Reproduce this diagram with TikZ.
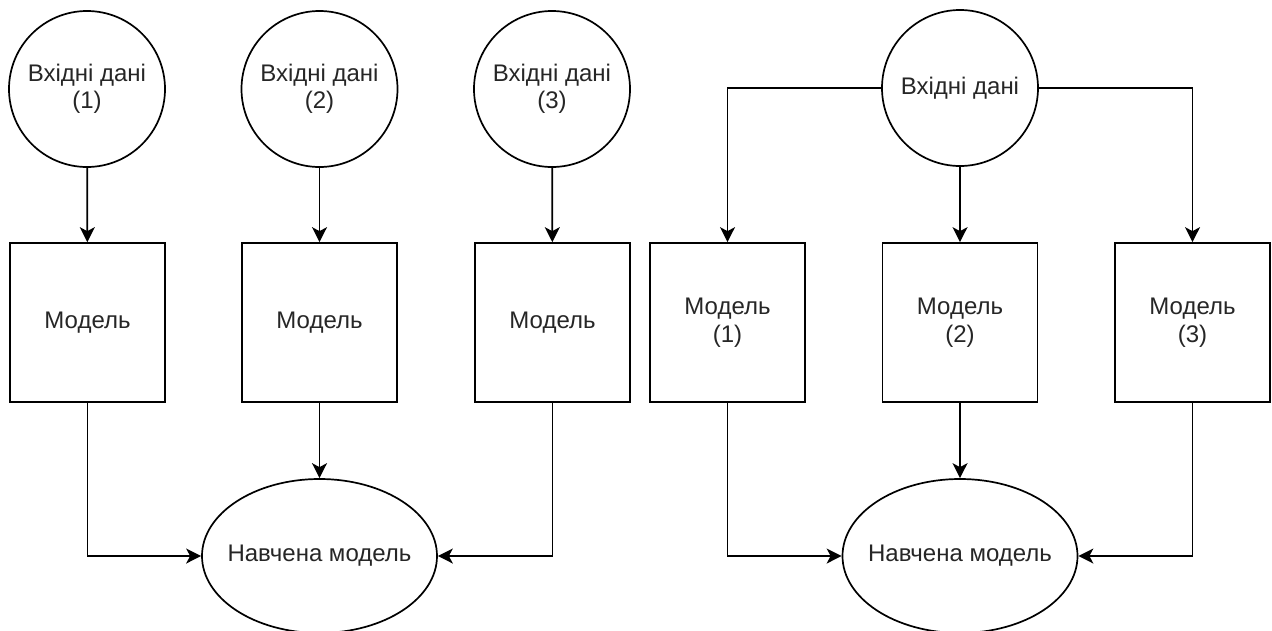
\documentclass[tikz,border=0pt]{standalone}
\usepackage{fontspec}
\setmainfont{Liberation Sans}
\usetikzlibrary{arrows.meta,shapes.geometric}
\begin{document}
\begin{tikzpicture}[x=1pt,y=-1pt,
  every node/.style={font=\fontsize{24}{27.5}\selectfont, align=center, text=black!85},
  datanode/.style={draw, line width=1.7pt, circle, inner sep=0pt, minimum size=156pt},
  modelbox/.style={draw, line width=1.7pt, rectangle, inner sep=0pt, minimum width=155pt, minimum height=159pt},
  trained/.style={draw, line width=1.7pt, ellipse, inner xsep=-30pt, inner ysep=0pt, minimum width=235pt, minimum height=154pt},
  flow/.style={line width=1.7pt, -{Stealth[length=15pt,width=15pt,inset=4pt]}}]
\useasboundingbox (0,0) rectangle (1272,630);
\clip (0,0) rectangle (1272,630);

% left scheme: separate inputs, separate models, one trained model
\node[datanode] (i1) at (87,89) {Вхідні дані\\(1)};
\node[datanode] (i2) at (319.5,89) {Вхідні дані\\(2)};
\node[datanode] (i3) at (552,89) {Вхідні дані\\(3)};
\node[modelbox] (m1) at (87.5,322.5) {Модель};
\node[modelbox] (m2) at (319.5,322.5) {Модель};
\node[modelbox] (m3) at (552.5,322.5) {Модель};
\node[trained] (t1) at (319.5,556) {Навчена модель};

\draw[flow] (i1) -- (m1);
\draw[flow] (i2) -- (m2);
\draw[flow] (i3) -- (m3);
\draw[flow] (m1.south) |- (t1.west);
\draw[flow] (m2.south) -- (t1.north);
\draw[flow] (m3.south) |- (t1.east);

% right scheme: one input, three models, one trained model
\node[datanode] (j) at (960,88) {Вхідні дані};
\node[modelbox] (n1) at (727.5,322.5) {Модель\\(1)};
\node[modelbox] (n2) at (960,322.5) {Модель\\(2)};
\node[modelbox] (n3) at (1192.5,322.5) {Модель\\(3)};
\node[trained] (t2) at (960,556) {Навчена модель};

\draw[flow] (j.west) -| (n1.north);
\draw[flow] (j) -- (n2);
\draw[flow] (j.east) -| (n3.north);
\draw[flow] (n1.south) |- (t2.west);
\draw[flow] (n2.south) -- (t2.north);
\draw[flow] (n3.south) |- (t2.east);
\end{tikzpicture}
\end{document}
